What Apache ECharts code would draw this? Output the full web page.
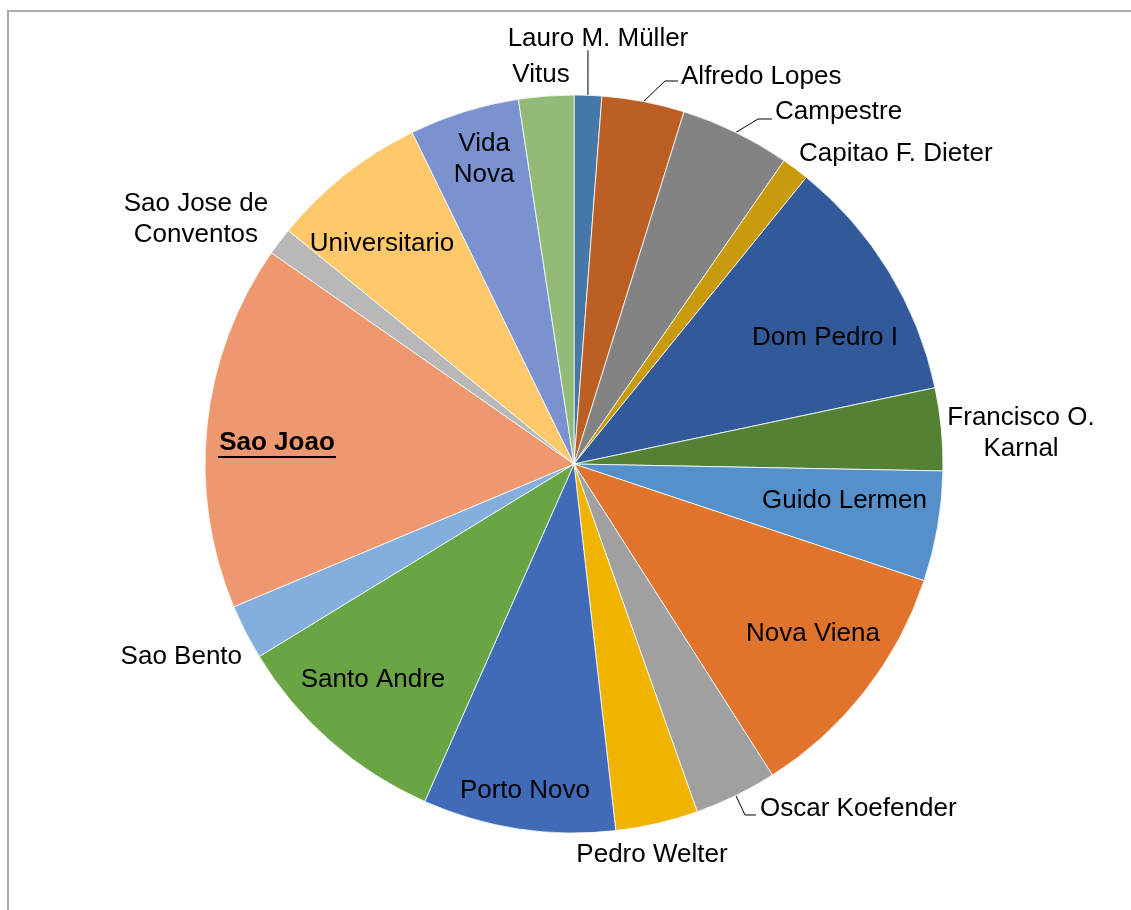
<!DOCTYPE html>
<html>
<head>
<meta charset="utf-8">
<script src="https://cdn.jsdelivr.net/npm/echarts@6/dist/echarts.min.js"></script>
<style>
  html, body { margin: 0; padding: 0; background: #fff; }
  #frame {
    position: absolute; left: 7px; top: 10px; width: 1200px; height: 1000px;
    border-left: 2px solid #aaaaaa; border-top: 2px solid #aaaaaa;
  }
  #chart { position: absolute; left: 0; top: 0; width: 1131px; height: 910px; }
</style>
</head>
<body>
<div id="frame"></div>
<div id="chart"></div>
<script>
// 街区名称（顺时针，从12点方向开始）
var categories = [
    'Lauro M. Müller', 'Alfredo Lopes', 'Campestre', 'Capitao F. Dieter',
    'Dom Pedro I', 'Francisco O. Karnal', 'Guido Lermen', 'Nova Viena',
    'Oscar Koefender', 'Pedro Welter', 'Porto Novo', 'Santo Andre',
    'Sao Bento', 'Sao Joao', 'Sao Jose de Conventos', 'Universitario',
    'Vida Nova', 'Vitus'
];

// 各扇区数值
var values = [1, 3, 4, 1, 9, 3, 4, 9, 3, 3, 7, 8, 2, 13.3, 1, 5.7, 4, 2];

// 扇区颜色
var colors = [
    '#4577a8', '#bc5f25', '#838383', '#c89a0c', '#325a9b', '#548235',
    '#5590cb', '#e0742d', '#a0a0a0', '#f0b400', '#3f6bb8', '#69a544',
    '#84aedc', '#ef9870', '#b8b8b8', '#ffc96b', '#7b92d0', '#93bb77'
];

// 标签换行文字
var labelText = {
    'Francisco O. Karnal': 'Francisco O.\nKarnal',
    'Sao Jose de Conventos': 'Sao Jose de\nConventos',
    'Vida Nova': 'Vida\nNova'
};

var CX = 574, CY = 464, R = 369;

// 标签相对扇区外弧中点的偏移，line 为引导线折点
var spots = [
    { dx: 10, dy: -56, line: [[0, -22], [0, -45]] },
    { dx: 37.6, dy: -24.6, align: 'left', line: [[21.6, -20.6], [34.6, -20.6]] },
    { dx: 39.1, dy: -20.4, align: 'left', line: [[22.1, -13.4], [36.1, -13.4]] },
    { dx: 3.6, dy: -14.8, align: 'left' },
    { dx: -63.8, dy: 66.5 },
    { dx: 79.7, dy: 3.9 },
    { dx: -93.2, dy: -25.5 },
    { dx: -52, dy: -57 },
    { dx: 24.1, dy: 13.4, align: 'left', line: [[9.1, 19.4], [20.1, 19.4]] },
    { dx: -5.1, dy: 31.5 },
    { dx: 6.6, dy: -37.8 },
    { dx: 42.1, dy: -61.6 },
    { dx: -3.5, dy: 24.8, align: 'right' },
    { dx: 69.9, dy: 20 },
    { dx: -83.7, dy: -22.4 },
    { dx: 37.2, dy: 69.2 },
    { dx: 20.1, dy: 47.2 },
    { dx: -5.1, dy: -21.1 }
];

var total = values.reduce(function (a, b) { return a + b; }, 0);

function midAngle(i) {
    var before = 0;
    for (var k = 0; k < i; k++) before += values[k];
    return (before + values[i] / 2) / total * Math.PI * 2;
}

var myChart = echarts.init(document.getElementById('chart'), null, { renderer: 'canvas' });

var data = categories.map(function (name, i) {
    var hasLine = !!spots[i].line;
    return {
        name: name,
        value: values[i],
        itemStyle: { color: colors[i] },
        label: { position: hasLine ? 'outside' : 'inside' },
        labelLine: { show: hasLine }
    };
});

var option = {
    animation: false,
    series: [{
        type: 'pie',
        center: [CX, CY],
        radius: [0, R],
        startAngle: 90,
        clockwise: true,
        avoidLabelOverlap: false,
        silent: true,
        itemStyle: { borderColor: '#ffffff', borderWidth: 0.8 },
        label: {
            show: true,
            color: '#000',
            fontFamily: 'Liberation Sans, Arial, sans-serif',
            fontSize: 26,
            lineHeight: 31,
            textBorderWidth: 0,
            formatter: function (p) {
                if (p.name === 'Sao Joao') return '{u|Sao Joao}\n{l|}';
                return labelText[p.name] || p.name;
            },
            rich: {
                u: { fontWeight: 'bold', fontSize: 26, lineHeight: 24, color: '#000',
                     fontFamily: 'Liberation Sans, Arial, sans-serif' },
                l: { width: 118, height: 2, lineHeight: 4, backgroundColor: '#000' }
            }
        },
        labelLine: {
            show: false,
            lineStyle: { color: '#000', width: 1 }
        },
        labelLayout: function (params) {
            var i = params.dataIndex;
            var s = spots[i];
            var a = midAngle(i);
            var px = CX + R * Math.sin(a);
            var py = CY - R * Math.cos(a);
            var out = {
                x: px + s.dx,
                y: py + s.dy,
                align: s.align || 'center',
                verticalAlign: 'middle'
            };
            if (s.line) {
                out.labelLinePoints = [[px, py]].concat(s.line.map(function (q) {
                    return [px + q[0], py + q[1]];
                }));
            }
            return out;
        },
        data: data
    }]
};

myChart.setOption(option);

window.addEventListener('resize', function () {
    myChart.resize();
});
</script>
</body>
</html>
